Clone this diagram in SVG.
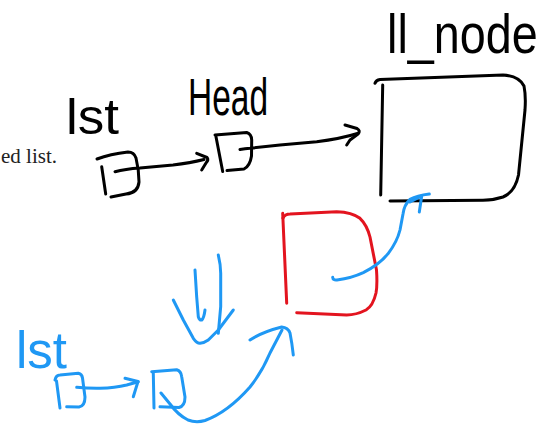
<svg xmlns="http://www.w3.org/2000/svg" width="548" height="426" viewBox="0 0 548 426">
  <style>
    .ink { fill: none; stroke-width: 3; stroke-linecap: round; stroke-linejoin: round; }
    .k { stroke: #000000; }
    .b { stroke: #1f98f4; }
    .r { stroke: #e3141f; }
    .hand { font-family: "Liberation Sans", "DejaVu Sans", sans-serif; }
    .hk { fill: #000000; }
    .hb { fill: #1f98f4; }
    .doc { font-family: "Liberation Serif", "DejaVu Serif", serif; fill: #222222; }
  </style>
  <rect x="0" y="0" width="548" height="426" fill="#ffffff"/>

  <text class="doc" x="1" y="163" font-size="22" textLength="56" lengthAdjust="spacingAndGlyphs">ed list.</text>

  <g id="label-lst-black">
    <text class="hand hk" x="66" y="134" font-size="50" textLength="53" lengthAdjust="spacingAndGlyphs">lst</text>
  </g>
  <g id="label-head">
    <text class="hand hk" transform="translate(188,115) scale(0.645,1)" x="0" y="0" font-size="52">Head</text>
  </g>
  <g id="label-ll-node">
    <text class="hand hk" transform="translate(387,53) scale(0.85,1)" x="0" y="0" font-size="55">ll_node</text>
  </g>
  <g id="label-lst-blue">
    <text class="hand hb" x="16" y="368" font-size="52" textLength="51" lengthAdjust="spacingAndGlyphs">lst</text>
  </g>

  <g id="node-lst-black">
    <path class="ink k" d="M97,159 Q110,154 128,152 Q134,152 136,158 Q139,170 139,182 Q138,193 126,194 L111,197"/>
    <path class="ink k" d="M101.7,166.7 L105.7,194"/>
  </g>
  <g id="node-head">
    <path class="ink k" d="M215,135 L246.7,132.5 Q251.5,134 251.7,140 L251.5,156 Q250,166 244,169 L227,170.5"/>
    <path class="ink k" d="M216,136.7 L222.7,171.5"/>
  </g>
  <g id="node-ll-node">
    <path class="ink k" d="M375,83.3 Q376,80 380,79.5 L503,75 Q519,76 524,86 Q526,96 525,110 L518.5,175 Q515,192 503,197 Q494,200 483,200.3 L390,201"/>
    <path class="ink k" d="M382.7,85 L380.7,195"/>
  </g>
  <g id="node-red">
    <path class="ink r" d="M282.7,213.3 L286.7,303.3"/>
    <path class="ink r" d="M283,218 Q285,214 290,214 L336.7,211.7 Q352,212 360,218.3 Q367,225 370,237 L376.5,270 Q377.5,285 376,293 Q373,306 366,310 Q356,315 346.7,315 L296.7,312.7"/>
  </g>
  <g id="node-lst-blue">
    <path class="ink b" d="M55,380 Q56,375 60,375 L78.3,373.3 Q82,374 82.5,378 L85,397 Q85,406 79,407 L66.7,406.7"/>
    <path class="ink b" d="M56.5,381 L60,408"/>
  </g>
  <g id="node-head-blue">
    <path class="ink b" d="M151.7,371.7 L176.7,369.8 Q181,371 181.7,376.7 L185,397 Q185,406 179,407.5 L160,406.7"/>
    <path class="ink b" d="M153.3,373.3 L154,408"/>
  </g>
  <g id="double-arrow">
    <path class="ink b" d="M195,270 L196.7,297 L198.3,316.7 Q199.5,320.5 201.7,320 Q204,318 205,310"/>
    <path class="ink b" d="M218.3,255 Q220.7,265 220.7,273.3 L220.7,306.7 L218.3,333.3"/>
    <path class="ink b" d="M173.3,300 L183.3,320 L193.3,338.3 Q197,343.5 200,343.3 Q204,343 208.3,340 L218.3,330 L233.3,310"/>
  </g>

  <g id="connectors">
    <path class="ink k" d="M115,171.7 Q125,169 140,168 L173,165 Q190,163 204,159.5"/>
    <path class="ink k" d="M196.7,153.3 L207,157.5 Q209,160 206,163 L201.7,170"/>
    <path class="ink k" d="M240,149.5 Q245,148.5 250,148.3 L280,145 L316.7,141.7 Q340,139 358.3,133.3"/>
    <path class="ink k" d="M345,125 L357,128.5 Q361,131 358,134 L350,140 L346.7,145"/>
    <path class="ink b" d="M76.7,387.3 Q88,388.5 100,388.3 Q115,388 126.7,385 L138.3,381.7"/>
    <path class="ink b" d="M125,378.3 L138,381.5 L133.3,396.7"/>
    <path class="ink b" d="M161,393 L170,404 Q178,415 188,420 Q196,423 205,420.5 Q228,412 250,387 Q262,372 270,353 L282,330"/>
    <path class="ink b" d="M250,340 Q262,332 281.7,327 Q288,327.5 290,333 Q292,343 293.3,355"/>
    <path class="ink b" d="M332.7,277.3 Q333,280.5 337,280 Q352,278 363.3,272.7 Q380,264 388.3,253.3 Q397,242 400,230 L403,214 Q404,205 410,199.3 Q417,195.5 429.3,194"/>
    <path class="ink b" d="M410,202 L421.7,196 L419.3,212"/>
  </g>
</svg>
